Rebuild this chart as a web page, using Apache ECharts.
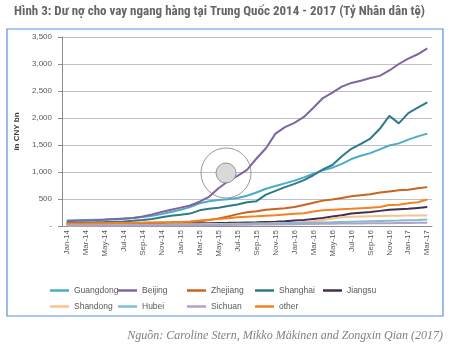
<!DOCTYPE html>
<html><head><meta charset="utf-8">
<script src="https://cdn.jsdelivr.net/npm/echarts@6/dist/echarts.min.js"></script>
<style>html,body{margin:0;padding:0;background:#fff}#c{width:460px;height:348px}</style>
</head><body><div id="c"></div>
<script>
const months = ['Jan-14','Feb-14','Mar-14','Apr-14','May-14','Jun-14','Jul-14','Aug-14','Sep-14','Oct-14','Nov-14','Dec-14',
'Jan-15','Feb-15','Mar-15','Apr-15','May-15','Jun-15','Jul-15','Aug-15','Sep-15','Oct-15','Nov-15','Dec-15',
'Jan-16','Feb-16','Mar-16','Apr-16','May-16','Jun-16','Jul-16','Aug-16','Sep-16','Oct-16','Nov-16','Dec-16',
'Jan-17','Feb-17','Mar-17'];
const yTicks = [0,500,1000,1500,2000,2500,3000,3500];
const guangdong = [100,105,110,115,120,130,140,150,165,190,220,260,300,350,420,460,480,495,520,560,620,690,740,790,840,900,970,1030,1080,1150,1240,1300,1350,1420,1490,1530,1600,1660,1710];
const beijing = [90,95,100,105,115,125,135,150,175,215,260,300,340,380,450,540,700,830,930,1040,1250,1440,1710,1830,1910,2020,2190,2370,2470,2580,2650,2690,2740,2780,2880,3000,3100,3180,3290];
const zhejiang = [40,42,44,46,48,50,52,55,58,62,66,70,75,80,90,110,140,175,220,255,275,300,315,330,350,390,430,470,490,520,550,570,590,620,640,660,670,700,720];
const shanghai = [60,62,65,68,72,78,85,95,110,130,160,190,210,230,290,320,340,370,400,440,460,580,650,720,780,850,940,1050,1130,1290,1430,1520,1620,1800,2040,1900,2090,2190,2290];
const jiangsu = [30,31,32,33,34,35,36,37,38,40,42,44,46,48,50,52,55,58,62,66,70,75,80,88,100,110,130,150,175,200,230,245,260,280,300,310,320,335,350];
const shandong = [20,21,22,23,24,25,26,27,28,29,30,31,32,33,34,35,36,38,40,42,45,48,52,56,60,75,90,110,140,160,170,175,180,185,190,190,195,195,195];
const hubei = [10,11,12,13,14,15,16,17,18,19,20,21,22,24,26,28,30,32,34,37,40,43,46,50,54,58,62,66,70,75,80,84,88,92,96,100,106,112,120];
const sichuan = [5,5,6,6,7,7,8,8,9,10,11,12,13,14,15,16,18,20,22,24,26,28,30,32,34,36,38,40,42,44,46,48,50,51,52,54,56,58,60];
const other = [45,47,48,50,52,54,56,58,60,63,66,70,75,85,100,115,130,145,160,172,180,190,200,215,225,235,270,290,300,310,320,330,340,350,390,395,420,440,490];

const seriesDefs = [
  ['Guangdong', guangdong, '#4BACC6'],
  ['Beijing', beijing, '#8064A2'],
  ['Zhejiang', zhejiang, '#C8641E'],
  ['Shanghai', shanghai, '#2F7A8A'],
  ['Jiangsu', jiangsu, '#403152'],
  ['Shandong', shandong, '#FAC090'],
  ['Hubei', hubei, '#7BBFD1'],
  ['Sichuan', sichuan, '#B3A2C7'],
  ['other', other, '#F58220']
];
const series = seriesDefs.map(([n,d,c]) => ({
  name:n, type:'line', data:d, showSymbol:false, symbol:'none',
  lineStyle:{width:2, color:c}, itemStyle:{color:c}, animation:false
}));
const legendPos = [[50,286],[118,286],[187,286],[255,286],[323,286],[50,302],[118,302],[187,302],[255,302]];
const legends = seriesDefs.map(([n],i)=>({
  data:[n], left:legendPos[i][0], top:legendPos[i][1], padding:0,
  icon:'rect', itemWidth:19, itemHeight:2.5,
  textStyle:{fontSize:8.5, color:'#595959', fontFamily:'Liberation Sans'}
}));
const chart = echarts.init(document.getElementById('c'), null, {renderer:'canvas'});
chart.setOption({
  backgroundColor:'#fff',
  animation:false,
  grid:{left:62, right:28, top:37, bottom:122},
  legend: legends,
  xAxis:{type:'category', data:months, boundaryGap:true,
    axisLine:{lineStyle:{color:'#8c8c8c'}},
    axisTick:{interval:1, length:4, lineStyle:{color:'#8c8c8c'}},
    axisLabel:{interval:1, rotate:90, fontSize:8, color:'#595959', fontFamily:'Liberation Sans', margin:4}},
  yAxis:{type:'value', min:0, max:3500, interval:500,
    name:'in CNY bn', nameLocation:'middle', nameGap:40,
    nameTextStyle:{fontSize:8, fontWeight:'bold', color:'#404040', fontFamily:'Liberation Sans'},
    axisLine:{show:true, lineStyle:{color:'#8c8c8c'}},
    axisTick:{show:true, length:4, lineStyle:{color:'#8c8c8c'}},
    splitLine:{lineStyle:{color:'#c0c0c0'}},
    axisLabel:{fontSize:8, color:'#595959', fontFamily:'Liberation Sans', margin:10,
      formatter:v=> v===0 ? '-' : v.toLocaleString('en-US')}},
  series: series,
  graphic:[
    {type:'text', left:14, top:5, style:{text:'Hình 3: Dư nợ cho vay ngang hàng tại Trung Quốc 2014 - 2017 (Tỷ Nhân dân tệ)',
      font:'bold 13px "Liberation Sans Narrow", "Roboto Condensed", "Liberation Sans"', fill:'#666666'}},
    {type:'rect', shape:{x:7, y:29, width:436, height:287}, style:{fill:'none', stroke:'#5B8FE0', lineWidth:1.2}, silent:true},
    {type:'text', right:17, top:330, style:{text:'Nguồn: Caroline Stern, Mikko Mäkinen and Zongxin Qian (2017)',
      font:'italic 12px "Liberation Serif"', fill:'#808080'}},
    {type:'circle', shape:{cx:226, cy:173, r:25}, style:{fill:'none', stroke:'#808080', lineWidth:0.8}, z:100},
    {type:'circle', shape:{cx:226, cy:173, r:10}, style:{fill:'#D9D9D9', stroke:'#808080', lineWidth:0.8}, z:100}
  ]
});
</script></body></html>
